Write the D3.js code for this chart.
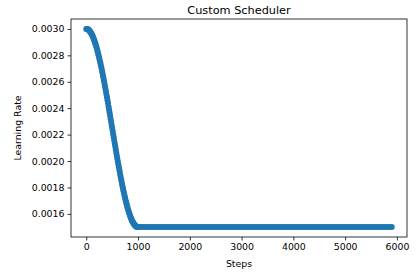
<!DOCTYPE html>
<html>
<head>
<meta charset="utf-8">
<script src="https://cdn.jsdelivr.net/npm/d3@7"></script>
<style>
  body { margin: 0; background: #fff; }
  text { font-family: "DejaVu Sans", sans-serif; fill: #000; }
</style>
</head>
<body>
<div id="chart"></div>
<script>
const width = 420;
const height = 273;
const margin = { top: 19, right: 13, bottom: 36, left: 71 };

// Steps for the decay part (read every 10 steps)
const decaySteps = [
  0, 10, 20, 30, 40, 50, 60, 70, 80, 90,
  100, 110, 120, 130, 140, 150, 160, 170, 180, 190,
  200, 210, 220, 230, 240, 250, 260, 270, 280, 290,
  300, 310, 320, 330, 340, 350, 360, 370, 380, 390,
  400, 410, 420, 430, 440, 450, 460, 470, 480, 490,
  500, 510, 520, 530, 540, 550, 560, 570, 580, 590,
  600, 610, 620, 630, 640, 650, 660, 670, 680, 690,
  700, 710, 720, 730, 740, 750, 760, 770, 780, 790,
  800, 810, 820, 830, 840, 850, 860, 870, 880, 890,
  900, 910, 920, 930, 940, 950, 960, 970, 980, 990,
  1000
];
const decayRates = [
  0.0030000, 0.0029996, 0.0029985, 0.0029967, 0.0029941, 0.0029908, 0.0029867, 0.0029819, 0.0029764, 0.0029702,
  0.0029633, 0.0029557, 0.0029473, 0.0029383, 0.0029286, 0.0029183, 0.0029072, 0.0028956, 0.0028832, 0.0028703,
  0.0028568, 0.0028426, 0.0028279, 0.0028126, 0.0027967, 0.0027803, 0.0027634, 0.0027460, 0.0027281, 0.0027097,
  0.0026908, 0.0026716, 0.0026519, 0.0026318, 0.0026113, 0.0025905, 0.0025693, 0.0025479, 0.0025261, 0.0025041,
  0.0024818, 0.0024592, 0.0024365, 0.0024136, 0.0023905, 0.0023673, 0.0023440, 0.0023206, 0.0022971, 0.0022736,
  0.0022500, 0.0022264, 0.0022029, 0.0021794, 0.0021560, 0.0021327, 0.0021095, 0.0020864, 0.0020635, 0.0020408,
  0.0020182, 0.0019959, 0.0019739, 0.0019521, 0.0019307, 0.0019095, 0.0018887, 0.0018682, 0.0018481, 0.0018284,
  0.0018092, 0.0017903, 0.0017719, 0.0017540, 0.0017366, 0.0017197, 0.0017033, 0.0016874, 0.0016721, 0.0016574,
  0.0016432, 0.0016297, 0.0016168, 0.0016044, 0.0015928, 0.0015817, 0.0015714, 0.0015617, 0.0015527, 0.0015443,
  0.0015367, 0.0015298, 0.0015236, 0.0015181, 0.0015133, 0.0015092, 0.0015059, 0.0015033, 0.0015015, 0.0015004,
  0.0015000
];

// Flat part: the rate stays at its floor until the end
const flatSteps = [
  1050, 1100, 1150, 1200, 1250, 1300, 1350, 1400, 1450, 1500,
  1550, 1600, 1650, 1700, 1750, 1800, 1850, 1900, 1950, 2000,
  2050, 2100, 2150, 2200, 2250, 2300, 2350, 2400, 2450, 2500,
  2550, 2600, 2650, 2700, 2750, 2800, 2850, 2900, 2950, 3000,
  3050, 3100, 3150, 3200, 3250, 3300, 3350, 3400, 3450, 3500,
  3550, 3600, 3650, 3700, 3750, 3800, 3850, 3900, 3950, 4000,
  4050, 4100, 4150, 4200, 4250, 4300, 4350, 4400, 4450, 4500,
  4550, 4600, 4650, 4700, 4750, 4800, 4850, 4900, 4950, 5000,
  5050, 5100, 5150, 5200, 5250, 5300, 5350, 5400, 5450, 5500,
  5550, 5600, 5650, 5700, 5750, 5800, 5850, 5900
];
const flatRate = 0.0015;

const xTicks = [0, 1000, 2000, 3000, 4000, 5000, 6000];
const yTicks = [0.0016, 0.0018, 0.0020, 0.0022, 0.0024, 0.0026, 0.0028, 0.0030];

const points = decaySteps.map((s, i) => ({ step: s, lr: decayRates[i] }))
  .concat(flatSteps.map(s => ({ step: s, lr: flatRate })));

const svg = d3.select("#chart")
  .append("svg")
  .attr("width", width)
  .attr("height", height);

// matplotlib-style 5% margins around the data
const xExt = d3.extent(points, d => d.step);
const yExt = d3.extent(points, d => d.lr);
const xPad = (xExt[1] - xExt[0]) * 0.05;
const yPad = (yExt[1] - yExt[0]) * 0.05;

const x = d3.scaleLinear()
  .domain([xExt[0] - xPad, xExt[1] + xPad])
  .range([margin.left, width - margin.right]);

const y = d3.scaleLinear()
  .domain([yExt[0] - yPad, yExt[1] + yPad])
  .range([height - margin.bottom, margin.top]);

// Points
svg.append("g")
  .selectAll("circle")
  .data(points)
  .enter()
  .append("circle")
  .attr("cx", d => x(d.step))
  .attr("cy", d => y(d.lr))
  .attr("r", 3)
  .style("fill", "#1f77b4");

// Axes
const xAxis = svg.append("g")
  .attr("transform", `translate(0,${height - margin.bottom})`)
  .call(d3.axisBottom(x).tickValues(xTicks).tickFormat(d3.format("d")).tickSizeOuter(0).tickSize(3.5).tickPadding(3));

const yAxis = svg.append("g")
  .attr("transform", `translate(${margin.left},0)`)
  .call(d3.axisLeft(y).tickValues(yTicks).tickFormat(d3.format(".4f")).tickSizeOuter(0).tickSize(3.5).tickPadding(3));

[xAxis, yAxis].forEach(a => {
  a.select(".domain").remove();
  a.selectAll("text").style("font-size", "9.4px").style("font-family", "DejaVu Sans, sans-serif");
  a.selectAll("line").attr("stroke", "#000").attr("stroke-width", 0.8);
});

// Frame
svg.append("rect")
  .attr("x", margin.left)
  .attr("y", margin.top)
  .attr("width", width - margin.left - margin.right)
  .attr("height", height - margin.top - margin.bottom)
  .style("fill", "none")
  .style("stroke", "#000")
  .style("stroke-width", 0.8);

// Title and labels
svg.append("text")
  .attr("x", (margin.left + width - margin.right) / 2)
  .attr("y", 14)
  .style("text-anchor", "middle")
  .style("font-size", "11.3px")
  .text("Custom Scheduler");

svg.append("text")
  .attr("x", (margin.left + width - margin.right) / 2)
  .attr("y", 267)
  .style("text-anchor", "middle")
  .style("font-size", "9.4px")
  .text("Steps");

svg.append("text")
  .attr("transform", `translate(21,${(margin.top + height - margin.bottom) / 2}) rotate(-90)`)
  .style("text-anchor", "middle")
  .style("font-size", "9.4px")
  .text("Learning Rate");
</script>
</body>
</html>
